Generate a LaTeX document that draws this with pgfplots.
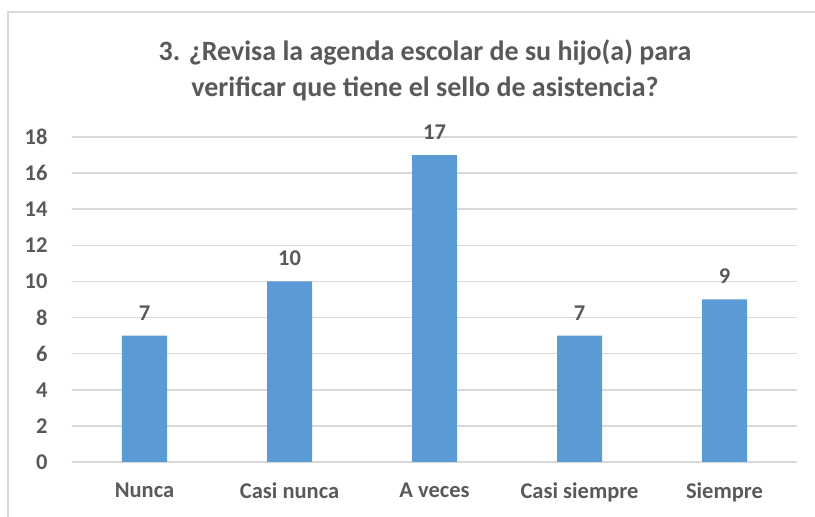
\documentclass[border=0pt]{standalone}
\usepackage{fontspec}
\setmainfont{Carlito}
\usepackage{pgfplots}
\pgfplotsset{compat=1.18}
\definecolor{barblue}{HTML}{5B9BD5}
\definecolor{txtgray}{HTML}{595959}
\definecolor{gridgray}{HTML}{D9D9D9}

\begin{document}
\begin{tikzpicture}[x=1pt,y=1pt]
\path[use as bounding box] (0,0) rectangle (815,517);
\draw[gridgray, line width=1.5pt] (8,0) -- (8,505) -- (815,505);
\node[text=txtgray, font=\bfseries\fontsize{28}{36}\selectfont, align=center] at (425,447)
  {3. ¿Revisa la agenda escolar de su hijo(a) para\\verificar que tiene el sello de asistencia?};
\begin{axis}[
    at={(72pt,55pt)}, anchor=south west,
    scale only axis,
    width=725pt, height=325pt,
    xmin=-0.5, xmax=4.5,
    ymin=0, ymax=18,
    ytick={0,2,...,18},
    xtick=data,
    xticklabels={Nunca, Casi nunca, A veces, Casi siempre, Siempre},
    axis line style={draw=none},
    tick style={draw=none},
    ymajorgrids,
    grid style={gridgray, line width=1.5pt},
    /pgf/number format/assume math mode=true,
    ticklabel style={text=txtgray, font=\bfseries\fontsize{22.5}{27}\selectfont},
    yticklabel style={xshift=-21pt},
    xticklabel style={yshift=-13pt},
    ybar, bar width=45pt,
    nodes near coords,
    every node near coord/.append style={text=txtgray, font=\bfseries\fontsize{22.5}{27}\selectfont, yshift=12pt},
]
\addplot[fill=barblue, draw=none] coordinates {(0,7) (1,10) (2,17) (3,7) (4,9)};
\end{axis}
\end{tikzpicture}
\end{document}
